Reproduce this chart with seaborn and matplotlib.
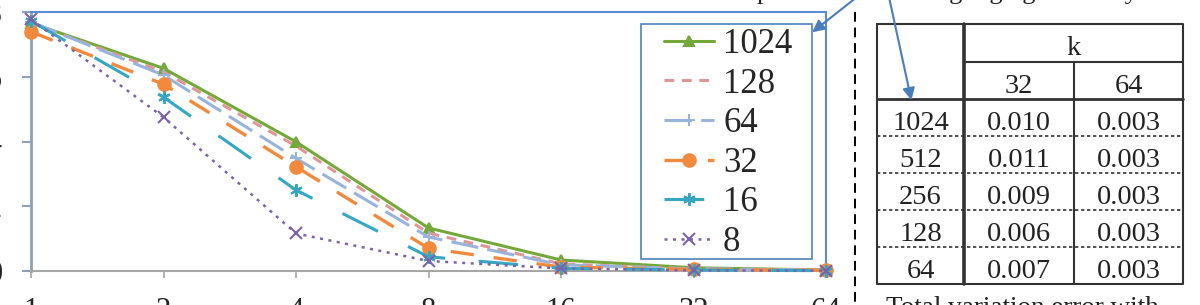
import numpy as np
import pandas as pd
import matplotlib
matplotlib.use("Agg")
import matplotlib.pyplot as plt
import seaborn as sns
from matplotlib.lines import Line2D
from matplotlib.patches import Rectangle

# ---------------- data ----------------
k_labels = ["1", "2", "4", "8", "16", "32", "64"]
series_names = ["1024", "128", "64", "32", "16", "8"]
err_1024 = [0.766, 0.626, 0.399, 0.133, 0.034, 0.010, 0.003]
err_128 = [0.766, 0.615, 0.386, 0.117, 0.022, 0.006, 0.003]
err_64 = [0.769, 0.605, 0.348, 0.105, 0.019, 0.007, 0.003]
err_32 = [0.739, 0.577, 0.322, 0.070, 0.012, 0.005, 0.002]
err_16 = [0.772, 0.537, 0.250, 0.044, 0.008, 0.003, 0.001]
err_8 = [0.777, 0.475, 0.116, 0.031, 0.008, 0.002, 0.001]
y_ticks = [0, 0.2, 0.4, 0.6, 0.8]
y_tick_labels = ["0", "0.2", "0.4", "0.6", "0.8"]

table_rows = ["1024", "512", "256", "128", "64"]
table_cols = ["32", "64"]
table_header = "k"
tv_k32 = ["0.010", "0.011", "0.009", "0.006", "0.007"]
tv_k64 = ["0.003", "0.003", "0.003", "0.003", "0.003"]
caption = "Total variation error with"
note_left = "overlap"
note_right = "using high granularity"

# ---------------- styles ----------------
styles = {
    "1024": dict(color="#74a83a", marker="^", ms=7, lw=2.2, dash=None),
    "128": dict(color="#dd9896", marker=None, ms=0, lw=2.2, dash=(3.2, 2.5)),
    "64": dict(color="#98b4da", marker="+", ms=8, lw=2.2, dash=(9, 3)),
    "32": dict(color="#f28a3e", marker="o", ms=9, lw=2.4, dash=(7, 6)),
    "16": dict(color="#35a7c2", marker=(6, 2, 0), ms=9, lw=2.2, dash=(13, 11)),
    "8": dict(color="#7d62aa", marker="x", ms=8, lw=1.8, dash=(1.2, 2.2)),
}
values = {"1024": err_1024, "128": err_128, "64": err_64,
          "32": err_32, "16": err_16, "8": err_8}

sns.set_style("white")
plt.rcParams["font.family"] = ["Liberation Serif", "DejaVu Serif"]

W, H = 1200, 305
fig = plt.figure(figsize=(12, 3.05), dpi=100)
fig.patch.set_facecolor("white")

ax = fig.add_axes([31 / W, (H - 271) / H, (826 - 31) / W, (271 - 12) / H])
positions = np.arange(len(k_labels))

handles = []
for name in series_names:
    st = styles[name]
    df = pd.DataFrame({"pos": positions, "val": values[name]})
    sns.lineplot(data=df, x="pos", y="val", ax=ax, color=st["color"],
                 lw=st["lw"], marker=st["marker"] if st["marker"] else None,
                 ms=st["ms"], mew=1.5, mec=st["color"], clip_on=False,
                 legend=False, zorder=3)
    line = ax.lines[-1]
    if st["dash"] is not None:
        line.set_dashes(st["dash"])
    h = Line2D([], [], color=st["color"], lw=st["lw"],
               marker=st["marker"] if st["marker"] else None,
               ms=st["ms"], mew=1.5, mec=st["color"])
    if st["dash"] is not None:
        h.set_dashes(st["dash"])
    handles.append(h)

ax.set_xlim(0, len(k_labels) - 1)
ax.set_ylim(0, 0.8)
ax.set_xticks(positions)
ax.set_xticklabels(k_labels)
ax.set_yticks(y_ticks)
ax.set_yticklabels(y_tick_labels)
ax.set_xlabel("")
ax.set_ylabel("")
ax.tick_params(axis="x", direction="out", length=5, width=1.2, color="#a6a6a6",
               pad=13.5, labelsize=22, bottom=True)
ax.tick_params(axis="y", direction="out", length=6.5, width=1.5, color="#8ea0bb",
               pad=13.5, labelsize=22, left=True)
for s in ["top", "right"]:
    ax.spines[s].set_color("#5b8bd0")
    ax.spines[s].set_linewidth(1.5)
ax.spines["left"].set_color("#8ea0bb")
ax.spines["left"].set_linewidth(2)
ax.spines["bottom"].set_color("#a6a6a6")
ax.spines["bottom"].set_linewidth(1.5)
ax.grid(False)

leg = ax.legend(handles, series_names, loc="upper left",
                bbox_to_anchor=(664 / W, (H - 28) / H), bbox_transform=fig.transFigure,
                borderaxespad=0, fontsize=25, labelspacing=0.19, borderpad=0,
                handlelength=1.45, handletextpad=0.25, frameon=False)

# ---------------- overlay (pixel coords) ----------------
ov = fig.add_axes([0, 0, 1, 1], zorder=5)
ov.set_xlim(0, W)
ov.set_ylim(H, 0)
ov.axis("off")

# legend frame
ov.add_patch(Rectangle((641, 24), 812 - 641, 259 - 24, fill=False,
                       edgecolor="#4f81bd", lw=1.2))

# dashed separator
ov.plot([855, 855], [12, H], color="black", lw=1.4, dashes=(5, 3))

# arrows
ov.annotate("", xy=(810, 34), xytext=(857, -3),
            arrowprops=dict(arrowstyle="-|>", color="#4a7ebb", lw=1.5, mutation_scale=18),
            annotation_clip=False)
ov.annotate("", xy=(912, 103), xytext=(889, -3),
            arrowprops=dict(arrowstyle="-|>", color="#4a7ebb", lw=1.5, mutation_scale=18),
            annotation_clip=False)

# cut-off notes at top
ov.text(770, -1, note_left, ha="right", va="baseline", fontsize=19, color="#222")
ov.text(905, -0.5, note_right, ha="left", va="baseline", fontsize=19, color="#222")

# table
tl, tr = 877, 1183
c1, c2 = 964, 1074
row_edges = [24, 62, 99, 136, 173, 210, 247, 284]
tc = "#333333"
ov.plot([tl, tr, tr, tl, tl], [24, 24, 284, 284, 24], color=tc, lw=1.5)
ov.plot([c1, c1], [24, 284], color=tc, lw=2.6)
ov.plot([c2, c2], [62, 284], color=tc, lw=1.5)
ov.plot([c1, tr], [62, 62], color=tc, lw=1.5)
ov.plot([tl, tr], [99, 99], color=tc, lw=2.0)
for y in row_edges[3:-1]:
    ov.plot([tl, tr], [y, y], color=tc, lw=1.2, dashes=(2, 1.6))

fs = 20.5
ov.text((c1 + tr) / 2, 62 - 7, table_header, ha="center", va="baseline", fontsize=fs, color="#222")
ov.text((c1 + c2) / 2, 99 - 6, table_cols[0], ha="center", va="baseline", fontsize=fs, color="#222")
ov.text((c2 + tr) / 2, 99 - 6, table_cols[1], ha="center", va="baseline", fontsize=fs, color="#222")
for i, (r, a, b) in enumerate(zip(table_rows, tv_k32, tv_k64)):
    yb = row_edges[i + 3] - 6
    ov.text((tl + c1) / 2, yb, r, ha="center", va="baseline", fontsize=fs, color="#222")
    ov.text((c1 + c2) / 2, yb, a, ha="center", va="baseline", fontsize=fs, color="#222")
    ov.text((c2 + tr) / 2, yb, b, ha="center", va="baseline", fontsize=fs, color="#222")

ov.text(1022, 296, caption, ha="center", va="top", fontsize=19.5, color="#222")

fig.savefig("out.png", dpi=100)
